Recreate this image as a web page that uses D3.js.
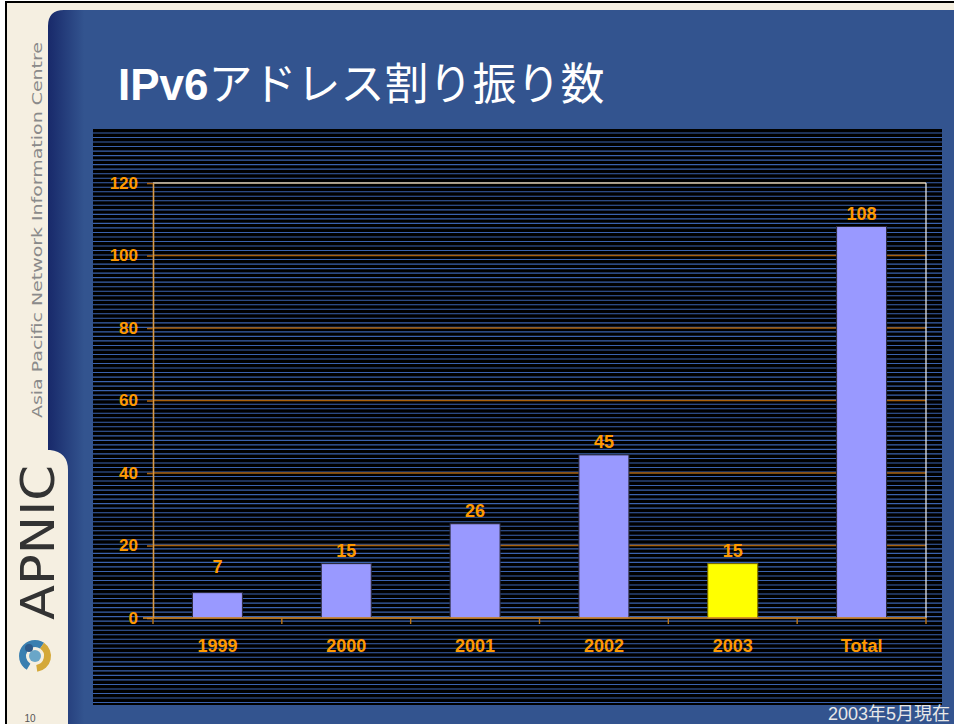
<!DOCTYPE html>
<html>
<head>
<meta charset="utf-8">
<script src="https://cdn.jsdelivr.net/npm/d3@7"></script>
<style>
  html, body { margin: 0; padding: 0; background: #fff; }
  svg { display: block; }
</style>
</head>
<body>
<div id="slide"></div>
<script>
// chart data
var categories = ["1999", "2000", "2001", "2002", "2003", "Total"];
var values = [7, 15, 26, 45, 15, 108];
var yTicks = [0, 20, 40, 60, 80, 100, 120];
var highlight = "2003";

var W = 954, H = 724;
var plot = { left: 153, right: 926, top: 183, bottom: 618 };

var svg = d3.select("#slide").append("svg")
  .attr("width", W)
  .attr("height", H);

var defs = svg.append("defs");
var grad = defs.append("linearGradient").attr("id", "blueGrad")
  .attr("x1", "0").attr("x2", "1").attr("y1", "0").attr("y2", "0");
grad.append("stop").attr("offset", "0").attr("stop-color", "#18296a");
grad.append("stop").attr("offset", "0.04").attr("stop-color", "#33548f");
grad.append("stop").attr("offset", "1").attr("stop-color", "#33548f");

// slide frame
svg.append("rect").attr("x", 5).attr("y", 1).attr("width", W - 5).attr("height", H - 1).attr("fill", "#000");
svg.append("rect").attr("x", 7).attr("y", 3).attr("width", W - 7).attr("height", H - 3).attr("fill", "#f5efe1");

// blue panel with rounded corner and the cream bump on the left
svg.append("path")
  .attr("d", "M48,26 Q48,10 64,10 L" + W + ",10 L" + W + "," + H +
    " L68," + H + " L68,470 Q68,452 50,450 L48,450 Z")
  .attr("fill", "url(#blueGrad)");

// striped chart background
svg.append("rect")
  .attr("x", 93).attr("y", 129).attr("width", 942 - 93).attr("height", 705 - 129)
  .attr("fill", "#000");
svg.append("g").selectAll("line")
  .data(d3.range(133, 704, 4.52))
  .enter().append("line")
  .attr("x1", 93).attr("x2", 942)
  .attr("y1", function(d) { return d; })
  .attr("y2", function(d) { return d; })
  .attr("stroke", "#3a62ad")
  .attr("stroke-width", 1.1);

// title
var title = svg.append("text")
  .attr("x", 118).attr("y", 100)
  .attr("fill", "#fff")
  .style("font-size", "44px");
title.append("tspan").text("IPv6")
  .style("font-family", "Liberation Sans, Arial, sans-serif")
  .style("font-weight", "bold");
title.append("tspan").text("アドレス割り振り数")
  .style("font-family", "Noto Sans CJK JP, sans-serif");

// scales
var x = d3.scaleBand()
  .domain(categories)
  .range([plot.left, plot.right])
  .paddingInner(0.612)
  .paddingOuter(0.306);

var y = d3.scaleLinear()
  .domain([0, 120])
  .range([plot.bottom, plot.top]);

var orange = "#ff9900";
var labelFont = "Liberation Sans, Arial, sans-serif";

// gridlines
svg.append("g").selectAll("line")
  .data(yTicks.filter(function(d) { return d > 0 && d < 120; }))
  .enter().append("line")
  .attr("x1", plot.left).attr("x2", plot.right)
  .attr("y1", function(d) { return y(d); })
  .attr("y2", function(d) { return y(d); })
  .attr("stroke", "#a8600c")
  .attr("stroke-width", 1.6);

// top and right border of plot
svg.append("line")
  .attr("x1", plot.left).attr("x2", plot.right)
  .attr("y1", y(120)).attr("y2", y(120))
  .attr("stroke", "#dcc6a0").attr("stroke-width", 1.6);
svg.append("line")
  .attr("x1", plot.right).attr("x2", plot.right)
  .attr("y1", y(120)).attr("y2", y(0))
  .attr("stroke", "#f4f4f4").attr("stroke-width", 1.2);

// y axis
var yAxis = d3.axisLeft(y).tickValues(yTicks).tickSizeInner(6).tickSizeOuter(0).tickPadding(9);
var gy = svg.append("g")
  .attr("transform", "translate(" + plot.left + ",0)")
  .call(yAxis);
gy.select(".domain").attr("stroke", "#d99a48").attr("stroke-width", 1.6);
gy.selectAll(".tick line").attr("stroke", "#a8600c").attr("stroke-width", 1.6);
gy.selectAll(".tick text")
  .attr("fill", orange)
  .style("font-family", labelFont)
  .style("font-weight", "bold")
  .style("font-size", "17px");

// bars
svg.append("g").selectAll("rect")
  .data(categories)
  .enter().append("rect")
  .attr("x", function(d) { return x(d); })
  .attr("width", x.bandwidth())
  .attr("y", function(d, i) { return y(values[i]); })
  .attr("height", function(d, i) { return y(0) - y(values[i]); })
  .attr("fill", function(d) { return d === highlight ? "#ffff00" : "#9999ff"; })
  .attr("stroke", function(d) { return d === highlight ? "#7a6a00" : "#2a2a3a"; })
  .attr("stroke-width", 1);

// value labels
svg.append("g").selectAll("text")
  .data(categories)
  .enter().append("text")
  .attr("x", function(d) { return x(d) + x.bandwidth() / 2; })
  .attr("y", function(d, i) { return Math.min(y(values[i]) - 7, y(0) - 45); })
  .attr("text-anchor", "middle")
  .attr("fill", orange)
  .style("font-family", labelFont)
  .style("font-weight", "bold")
  .style("font-size", "18px")
  .text(function(d, i) { return values[i]; });

// x axis
var xAxis = d3.axisBottom(x).tickSize(0).tickPadding(21);
var gx = svg.append("g")
  .attr("transform", "translate(0," + plot.bottom + ")")
  .call(xAxis);
gx.select(".domain").remove();
gx.selectAll(".tick text")
  .attr("fill", orange)
  .style("font-family", labelFont)
  .style("font-weight", "bold")
  .style("font-size", "18px");

svg.append("line")
  .attr("x1", plot.left - 10).attr("x2", plot.right)
  .attr("y1", y(0)).attr("y2", y(0))
  .attr("stroke", "#e0902a").attr("stroke-width", 1.6);

svg.append("g").selectAll("line")
  .data(d3.range(categories.length + 1))
  .enter().append("line")
  .attr("x1", function(i) { return plot.left + i * x.step(); })
  .attr("x2", function(i) { return plot.left + i * x.step(); })
  .attr("y1", y(0))
  .attr("y2", y(0) + 6)
  .attr("stroke", "#c07818")
  .attr("stroke-width", 1.4);

// footnote
svg.append("text")
  .attr("x", 950).attr("y", 720)
  .attr("text-anchor", "end")
  .attr("fill", "#e8e8e8")
  .style("font-family", "Liberation Sans, Noto Sans CJK JP, sans-serif")
  .style("font-size", "18px")
  .text("2003年5月現在");

// left sidebar
svg.append("text")
  .attr("transform", "translate(42,418) rotate(-90)")
  .attr("fill", "#8a8a8a")
  .attr("textLength", 376)
  .attr("lengthAdjust", "spacingAndGlyphs")
  .style("font-family", "DejaVu Sans, sans-serif")
  .style("font-size", "14px")
  .text("Asia Pacific Network Information Centre");

svg.append("text")
  .attr("transform", "translate(54,620) rotate(-90)")
  .attr("fill", "#333")
  .attr("textLength", 155)
  .attr("lengthAdjust", "spacingAndGlyphs")
  .style("font-family", "DejaVu Sans, sans-serif")
  .style("font-size", "46px")
  .text("APNIC");

// logo
var logo = svg.append("g").attr("transform", "translate(35,656)");
var arc = d3.arc();
logo.append("path")
  .attr("d", arc({ innerRadius: 9, outerRadius: 16, startAngle: -2.6, endAngle: 0.6 }))
  .attr("fill", "#3a7fb0");
logo.append("path")
  .attr("d", arc({ innerRadius: 9, outerRadius: 16, startAngle: 0.6, endAngle: 3.0 }))
  .attr("fill", "#d4a838");
logo.append("circle").attr("r", 6).attr("fill", "#6aa6c8");
logo.append("circle").attr("cx", -6).attr("cy", -8).attr("r", 4).attr("fill", "#2e5a8a");

svg.append("text")
  .attr("x", 30).attr("y", 722)
  .attr("text-anchor", "middle")
  .attr("fill", "#555")
  .style("font-family", labelFont)
  .style("font-size", "10px")
  .text("10");
</script>
</body>
</html>
